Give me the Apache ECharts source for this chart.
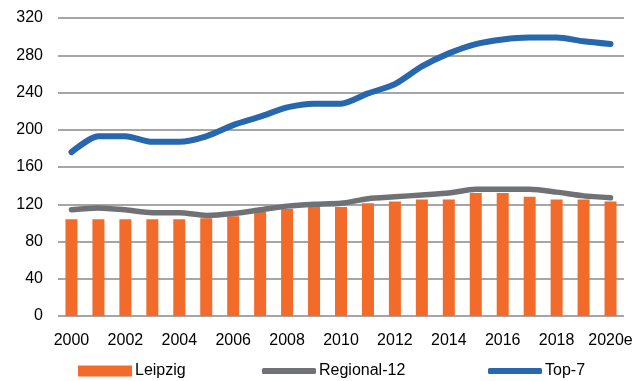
<!DOCTYPE html>
<html>
<head>
<meta charset="utf-8">
<script src="https://cdn.jsdelivr.net/npm/echarts@6/dist/echarts.min.js"></script>
<style>
  html, body { margin: 0; padding: 0; background: #fff; }
  #chart { width: 640px; height: 381px; }
</style>
</head>
<body>
<div id="chart"></div>
<script>
// Years on the category axis (2020 is an estimate)
const years = ['2000', '2001', '2002', '2003', '2004', '2005', '2006', '2007', '2008', '2009',
               '2010', '2011', '2012', '2013', '2014', '2015', '2016', '2017', '2018', '2019', '2020e'];

// Index values per series
const leipzig    = [104, 104, 104, 104, 104, 105, 107, 112, 115, 117, 117, 121, 123, 125, 125, 132, 132, 128, 125, 125, 123];
const regional12 = [114, 116, 114, 111, 111, 108, 110, 114, 118, 120, 121, 126, 128, 130, 132, 136, 136, 136, 133, 129, 127];
const top7       = [176, 193, 193, 187, 187, 193, 205, 214, 224, 228, 228, 239, 249, 268, 282, 292, 297, 299, 299, 295, 292];

// Value axis ticks
const yMin = 0, yMax = 320, yStep = 40;

const FONT = 'Liberation Sans, Arial, sans-serif';
const C_ORANGE = '#F26B2B';
const C_GREY = '#6F7174';
const C_BLUE = '#2767AD';

const chart = echarts.init(document.getElementById('chart'), null, { renderer: 'canvas' });

const legendBase = {
  top: 358,
  itemWidth: 54,
  itemHeight: 11,
  itemGap: 0,
  textStyle: { fontFamily: FONT, fontSize: 16, color: '#000', padding: [0, 0, 0, -2] },
  selectedMode: false
};

chart.setOption({
  animation: false,
  backgroundColor: '#ffffff',
  grid: { left: 58, right: 16, top: 18, bottom: 65, containLabel: false },
  legend: [
    Object.assign({}, legendBase, { left: 73, data: [{ name: 'Leipzig', icon: 'rect' }] }),
    Object.assign({}, legendBase, { left: 257, data: [{ name: 'Regional-12', icon: 'roundRect' }], itemHeight: 6 }),
    Object.assign({}, legendBase, { left: 483, data: [{ name: 'Top-7', icon: 'roundRect' }], itemHeight: 6 })
  ],
  xAxis: {
    type: 'category',
    data: years,
    boundaryGap: true,
    axisLine: { show: false },
    axisTick: { show: false },
    axisLabel: {
      interval: 1,
      margin: 17,
      fontFamily: FONT,
      fontSize: 16,
      color: '#000'
    }
  },
  yAxis: {
    type: 'value',
    min: yMin,
    max: yMax,
    interval: yStep,
    axisLine: { show: false },
    axisTick: { show: false },
    axisLabel: { margin: 15, fontFamily: FONT, fontSize: 16, color: '#000' },
    splitLine: { lineStyle: { color: '#898989', width: 1.5 } }
  },
  series: [
    {
      name: 'Leipzig',
      type: 'bar',
      data: leipzig,
      barWidth: 12,
      itemStyle: { color: C_ORANGE },
      z: 2
    },
    {
      name: 'Regional-12',
      type: 'line',
      data: regional12,
      smooth: 0.25,
      symbol: 'none',
      lineStyle: { color: C_GREY, width: 5.5, cap: 'round', join: 'round' },
      itemStyle: { color: C_GREY },
      z: 3
    },
    {
      name: 'Top-7',
      type: 'line',
      data: top7,
      smooth: 0.25,
      symbol: 'none',
      lineStyle: { color: C_BLUE, width: 6, cap: 'round', join: 'round' },
      itemStyle: { color: C_BLUE },
      z: 4
    }
  ]
});
</script>
</body>
</html>
